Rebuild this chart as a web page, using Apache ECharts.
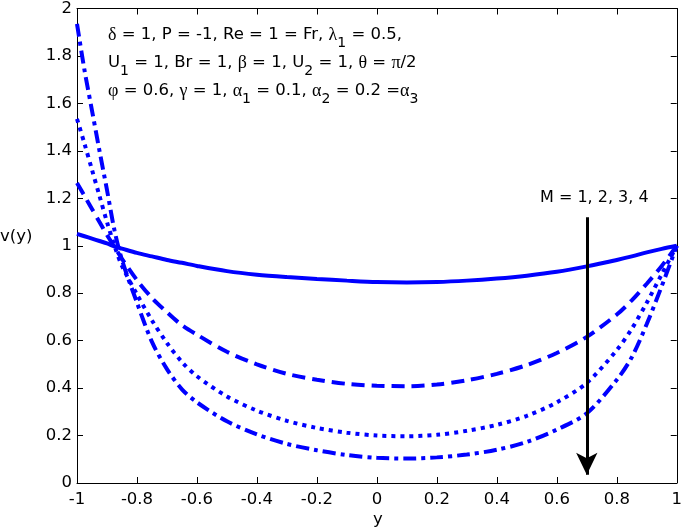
<!DOCTYPE html>
<html>
<head>
<meta charset="utf-8">
<script src="https://cdn.jsdelivr.net/npm/echarts@6/dist/echarts.min.js"></script>
<style>
html,body{margin:0;padding:0;background:#fff;}
#chart{width:685px;height:532px;}
</style>
</head>
<body>
<div id="chart"></div>
<script>
// y-coordinate samples
const yPos = [-1, -0.975, -0.95, -0.925, -0.9, -0.875, -0.85, -0.8, -0.75, -0.7, -0.65, -0.6, -0.5, -0.4, -0.3, -0.2, -0.1, 0, 0.1, 0.2, 0.3, 0.4, 0.5, 0.6, 0.7, 0.8, 0.85, 0.9, 0.95, 1];
// v(y) for M = 1, 2, 3, 4
const vM1 = [1.05, 1.04, 1.03, 1.02, 1.01, 0.997, 0.988, 0.97, 0.955, 0.94, 0.928, 0.915, 0.893, 0.878, 0.868, 0.86, 0.853, 0.847, 0.845, 0.847, 0.853, 0.862, 0.874, 0.89, 0.913, 0.94, 0.955, 0.972, 0.987, 1.0];
const vM2 = [1.265, 1.21, 1.155, 1.1, 1.045, 0.995, 0.945, 0.855, 0.78, 0.72, 0.665, 0.625, 0.553, 0.5, 0.46, 0.435, 0.418, 0.41, 0.408, 0.415, 0.433, 0.46, 0.497, 0.548, 0.616, 0.71, 0.77, 0.84, 0.915, 1.0];
const vM3 = [1.535, 1.43, 1.32, 1.21, 1.1, 1.0, 0.915, 0.795, 0.685, 0.59, 0.51, 0.45, 0.365, 0.305, 0.262, 0.232, 0.212, 0.2, 0.197, 0.203, 0.22, 0.245, 0.283, 0.34, 0.422, 0.56, 0.65, 0.76, 0.88, 1.0];
const vM4 = [1.935, 1.74, 1.57, 1.4, 1.235, 1.065, 0.94, 0.76, 0.595, 0.48, 0.395, 0.34, 0.26, 0.205, 0.165, 0.138, 0.118, 0.106, 0.103, 0.108, 0.12, 0.14, 0.173, 0.225, 0.294, 0.435, 0.53, 0.67, 0.83, 1.0];
const seriesNames = ['M = 1', 'M = 2', 'M = 3', 'M = 4'];
const dashTypes = ['solid', [13, 7], [4, 5], [13, 5, 4, 5]];
const arrowX = 0.7, arrowFrom = 1.12, arrowTo = 0.035;

const FONT = "'DejaVu Sans', 'Liberation Sans', Arial, sans-serif";
const SERIF = "'Liberation Serif', 'DejaVu Serif', serif";
const chart = echarts.init(document.getElementById('chart'), null, {renderer: 'canvas'});

function pairs(v){ return yPos.map((x,i)=>[x, v[i]]); }
const allV = [vM1, vM2, vM3, vM4];

const series = allV.map((v, i) => ({
  name: seriesNames[i],
  type: 'line',
  data: pairs(v),
  smooth: 0.3,
  showSymbol: false,
  symbol: 'none',
  lineStyle: {color: '#0000ff', width: 4, type: dashTypes[i]},
  xAxisIndex: 0, yAxisIndex: 0,
  z: 3
}));
series[0].markLine = {
  silent: true,
  symbol: ['none', 'arrow'],
  symbolSize: [16, 22],
  label: {show: false},
  lineStyle: {color: '#000', width: 3, type: 'solid'},
  animation: false,
  data: [[{coord: [arrowX, arrowFrom]}, {coord: [arrowX, arrowTo]}]]
};

const axisCommon = {
  axisLine: {show: true, onZero: false, lineStyle: {color: '#000', width: 1}},
  axisTick: {show: true, inside: true, length: 6, lineStyle: {color: '#000'}},
  splitLine: {show: false},
  axisLabel: {color: '#000', fontSize: 16.5, fontFamily: FONT}
};

const sub = {font: '14px ' + FONT, lineHeight: 28, padding: [16, 0, 0, 0], fill: '#000'};
const g = {font: '18px ' + SERIF, fill: '#000'};
const txt = '{g|δ} = 1, P = -1, Re = 1 = Fr, {g|λ}{s|1} = 0.5,\n' +
            'U{s|1} = 1, Br = 1, {g|β} = 1, U{s|2} = 1, {g|θ} = {g|π}/2\n' +
            '{g|φ} = 0.6, {g|γ} = 1, {g|α}{s|1} = 0.1, {g|α}{s|2} = 0.2 ={g|α}{s|3}';

chart.setOption({
  animation: false,
  backgroundColor: '#fff',
  grid: {left: 77, right: 2, top: 8, bottom: 49, containLabel: false},
  xAxis: [
    Object.assign({type: 'value', min: -1, max: 1, interval: 0.2, position: 'bottom'}, axisCommon, {axisLabel: Object.assign({}, axisCommon.axisLabel, {margin: 8})}),
    Object.assign({type: 'value', min: -1, max: 1, interval: 0.2, position: 'top'}, axisCommon, {axisLabel: {show: false}})
  ],
  yAxis: [
    Object.assign({type: 'value', min: 0, max: 2, interval: 0.2, position: 'left'}, axisCommon, {axisLabel: Object.assign({}, axisCommon.axisLabel, {margin: 5})}),
    Object.assign({type: 'value', min: 0, max: 2, interval: 0.2, position: 'right'}, axisCommon, {axisLabel: {show: false}})
  ],
  series: series,
  graphic: [
    {
      type: 'text', left: 108, top: 20, z: 10,
      style: {
        text: txt,
        font: '16.5px ' + FONT,
        fill: '#000',
        rich: {s: sub, g: g}
      }
    },
    {
      type: 'text', left: 540, top: 190, z: 10,
      style: {text: 'M = 1, 2, 3, 4', font: '16px ' + FONT, fill: '#000'}
    },
    {
      type: 'text', left: 0, top: 228, z: 10,
      style: {text: 'v(y)', font: '16.5px ' + FONT, fill: '#000'}
    },
    {
      type: 'text', left: 373, top: 511, z: 10,
      style: {text: 'y', font: '16.5px ' + FONT, fill: '#000'}
    }
  ]
});
</script>
</body>
</html>
